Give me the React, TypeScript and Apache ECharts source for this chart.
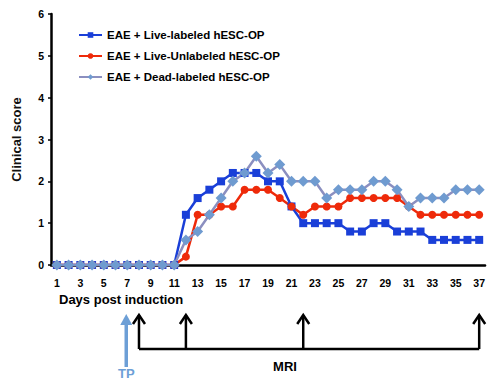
import React, { useEffect, useRef } from "react";
import * as echarts from "echarts";

const days: string[] = Array.from({ length: 37 }, (_, i) => String(i + 1));

const liveLabeled: number[] = [
  0, 0, 0, 0, 0, 0, 0, 0, 0, 0, 0,
  1.2, 1.6, 1.8, 2.0, 2.2, 2.2, 2.2, 2.0, 2.0, 1.4, 1.0, 1.0, 1.0, 1.0,
  0.8, 0.8, 1.0, 1.0, 0.8, 0.8, 0.8, 0.6, 0.6, 0.6, 0.6, 0.6,
];
const liveUnlabeled: number[] = [
  0, 0, 0, 0, 0, 0, 0, 0, 0, 0, 0,
  0.2, 1.2, 1.2, 1.4, 1.4, 1.8, 1.8, 1.8, 1.6, 1.4, 1.2, 1.4, 1.4, 1.4,
  1.6, 1.6, 1.6, 1.6, 1.6, 1.4, 1.2, 1.2, 1.2, 1.2, 1.2, 1.2,
];
const deadLabeled: number[] = [
  0, 0, 0, 0, 0, 0, 0, 0, 0, 0, 0,
  0.6, 0.8, 1.2, 1.6, 2.0, 2.2, 2.6, 2.2, 2.4, 2.0, 2.0, 2.0, 1.6, 1.8,
  1.8, 1.8, 2.0, 2.0, 1.8, 1.4, 1.6, 1.6, 1.6, 1.8, 1.8, 1.8,
];

const seriesNames: string[] = [
  "EAE + Live-labeled hESC-OP",
  "EAE + Live-Unlabeled hESC-OP",
  "EAE + Dead-labeled hESC-OP",
];

const tpDay = "7";
const mriDays: string[] = ["8", "12", "22", "37"];

const FONT = "'Liberation Sans', Arial, sans-serif";

export default function App() {
  const ref = useRef<HTMLDivElement>(null);

  useEffect(() => {
    if (!ref.current) return;
    const chart = echarts.init(ref.current, undefined, { renderer: "svg" });
    chart.setOption({
      animation: false,
      backgroundColor: "#ffffff",
      textStyle: { fontFamily: FONT },
      grid: { left: 51, right: 1, top: 14, bottom: 114 },
      legend: {
        orient: "vertical",
        left: 73,
        top: 24,
        itemWidth: 23,
        itemHeight: 7,
        itemGap: 9,
        data: seriesNames,
        textStyle: {
          fontFamily: FONT,
          fontSize: 11.5,
          fontWeight: "bold",
          color: "#000",
        },
      },
      xAxis: {
        type: "category",
        data: days,
        boundaryGap: true,
        axisLine: { lineStyle: { color: "#000", width: 2.5 } },
        axisTick: {
          interval: 0,
          alignWithLabel: true,
          length: 3,
          lineStyle: { color: "#000", width: 1.5 },
        },
        axisLabel: {
          interval: 1,
          margin: 12,
          fontFamily: FONT,
          fontSize: 10.5,
          fontWeight: "bold",
          color: "#000",
        },
        splitLine: { show: false },
      },
      yAxis: {
        type: "value",
        min: 0,
        max: 6,
        interval: 1,
        name: "Clinical score",
        nameLocation: "middle",
        nameGap: 28,
        nameTextStyle: { fontFamily: FONT, fontSize: 13, fontWeight: "bold", color: "#111" },
        axisLine: { show: true, lineStyle: { color: "#000", width: 2.5 } },
        axisTick: { show: true, length: 3, lineStyle: { color: "#000", width: 1.5 } },
        axisLabel: {
          margin: 7,
          fontFamily: FONT,
          fontSize: 10.5,
          fontWeight: "bold",
          color: "#000",
        },
        splitLine: { show: false },
      },
      series: [
        {
          name: seriesNames[0],
          type: "line",
          data: liveLabeled,
          symbol: "rect",
          symbolSize: 8,
          showAllSymbol: true,
          lineStyle: { color: "#1a3fd8", width: 2.5 },
          itemStyle: { color: "#1a3fd8" },
        },
        {
          name: seriesNames[1],
          type: "line",
          data: liveUnlabeled,
          symbol: "circle",
          symbolSize: 8,
          showAllSymbol: true,
          lineStyle: { color: "#ee2a0a", width: 2.5 },
          itemStyle: { color: "#ee2a0a" },
        },
        {
          name: seriesNames[2],
          type: "line",
          data: deadLabeled,
          symbol: "diamond",
          symbolSize: 11,
          showAllSymbol: true,
          lineStyle: { color: "#8b8fc0", width: 2.5 },
          itemStyle: { color: "#6f9bd0" },
        },
      ],
    });

    const px = (d: string) => chart.convertToPixel({ xAxisIndex: 0 }, d) as number;
    const tipY = 315;
    const baseY = 349;
    const elements: any[] = [];
    const tx = px(tpDay) - 1;
    elements.push({
      type: "line",
      shape: { x1: tx, y1: tipY + 6, x2: tx, y2: 367 },
      style: { stroke: "#6d9fd6", lineWidth: 3.5 },
    });
    elements.push({
      type: "polygon",
      shape: { points: [[tx - 6, tipY + 10], [tx, tipY - 1], [tx + 6, tipY + 10]] },
      style: { fill: "#6d9fd6" },
    });
    elements.push({
      type: "text",
      x: tx,
      y: 373,
      style: {
        text: "TP",
        fill: "#6d9fd6",
        font: `bold 13px ${FONT}`,
        align: "center",
        verticalAlign: "middle",
      },
    });
    const mx = mriDays.map((d) => px(d));
    mx.forEach((x) => {
      elements.push({
        type: "line",
        shape: { x1: x, y1: tipY, x2: x, y2: baseY },
        style: { stroke: "#000", lineWidth: 2.5 },
      });
      elements.push({
        type: "polyline",
        shape: { points: [[x - 6, tipY + 9], [x, tipY], [x + 6, tipY + 9]] },
        style: { stroke: "#000", lineWidth: 2.5, fill: null },
      });
    });
    elements.push({
      type: "line",
      shape: { x1: mx[0], y1: baseY, x2: mx[mx.length - 1], y2: baseY },
      style: { stroke: "#000", lineWidth: 2.5 },
    });
    elements.push({
      type: "text",
      x: 285,
      y: 366,
      style: {
        text: "MRI",
        fill: "#000",
        font: `bold 13px ${FONT}`,
        align: "center",
        verticalAlign: "middle",
      },
    });
    elements.push({
      type: "text",
      x: 59,
      y: 299,
      style: {
        text: "Days post induction",
        fill: "#000",
        font: `bold 13px ${FONT}`,
        align: "left",
        verticalAlign: "middle",
      },
    });
    chart.setOption({ graphic: { elements } });

    return () => chart.dispose();
  }, []);

  return (
    <div
      ref={ref}
      style={{ position: "fixed", left: 0, top: 0, width: 488, height: 379 }}
    />
  );
}
